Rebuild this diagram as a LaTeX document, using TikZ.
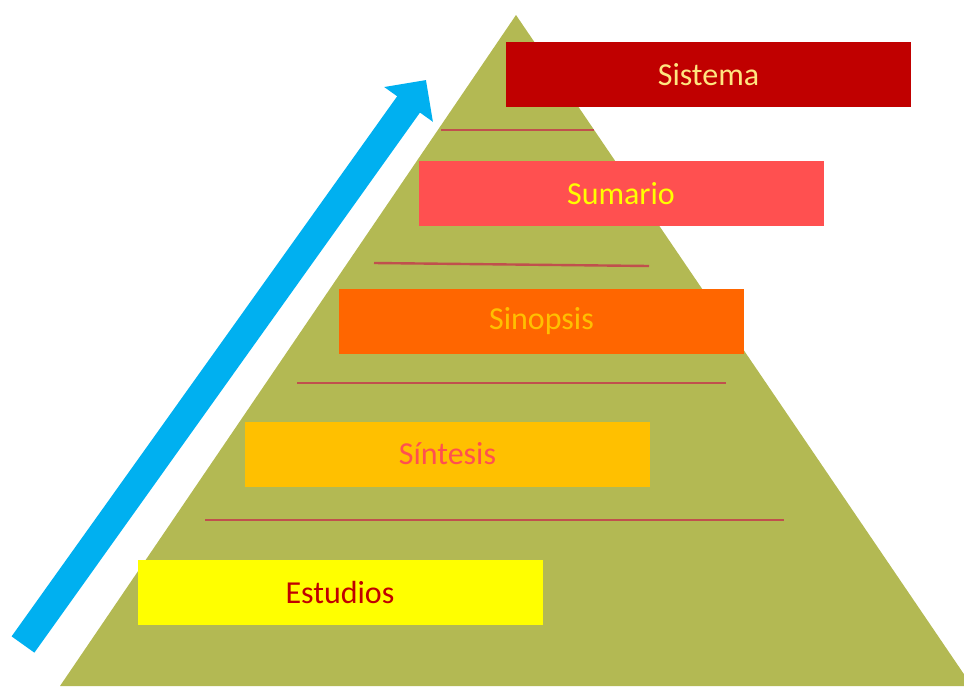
\documentclass[tikz,border=0pt]{standalone}
\usepackage{fontspec}
\setmainfont{Carlito}
\usetikzlibrary{arrows.meta,positioning}

\definecolor{pyrgreen}{HTML}{B3B953}
\definecolor{upblue}{HTML}{00B0F0}
\definecolor{seprule}{HTML}{C0504D}
\definecolor{darkred}{HTML}{C00000}
\definecolor{salmon}{HTML}{FF5050}
\definecolor{deeporange}{HTML}{FF6600}
\definecolor{amber}{HTML}{FFC000}
\definecolor{paleyellow}{HTML}{FFE680}
\definecolor{pureyellow}{HTML}{FFFF00}

\begin{document}
\begin{tikzpicture}[
  x=1pt, y=-1pt,
  tier/.style={minimum width=405pt, minimum height=65pt, inner sep=0pt,
    font=\fontsize{32}{36}\selectfont},
  sep/.style={draw=seprule, line width=2.4pt},
  climb/.style={draw=upblue, line width=28pt, -{Triangle[width=58pt,length=30pt]}}
]
\useasboundingbox (0,0) rectangle (964,686);
\clip (0,0) rectangle (964,686);

% pyramid body
\fill[pyrgreen] (60,686) -- (516,15) -- (972,686) -- cycle;

% separators between the levels
\draw[sep] (441,130) -- (594,130);
\draw[sep] (374,263) -- (649,266);
\draw[sep] (297,383) -- (726,383);
\draw[sep] (205,520) -- (784,520);

% levels, top to bottom
\node[tier, fill=darkred, text=paleyellow] (sistema) at (708.5,74.5) {Sistema};
\node[tier, fill=salmon, text=pureyellow] (sumario) at (621,193.5) {Sumario};
\node[tier, fill=deeporange, text=amber] (sinopsis) at (541.5,321.5) {Sinopsis};
\node[tier, fill=amber, text=salmon] (sintesis) at (447.5,454) {Síntesis};
\node[tier, fill=pureyellow, text=darkred] (estudios) at (340,592) {Estudios};

% rising arrow
\coordinate (arrowtail) at (23,644.5);
\coordinate (arrowtip) at (426,80);
\draw[climb] (arrowtail) -- (arrowtip);
\end{tikzpicture}
\end{document}
